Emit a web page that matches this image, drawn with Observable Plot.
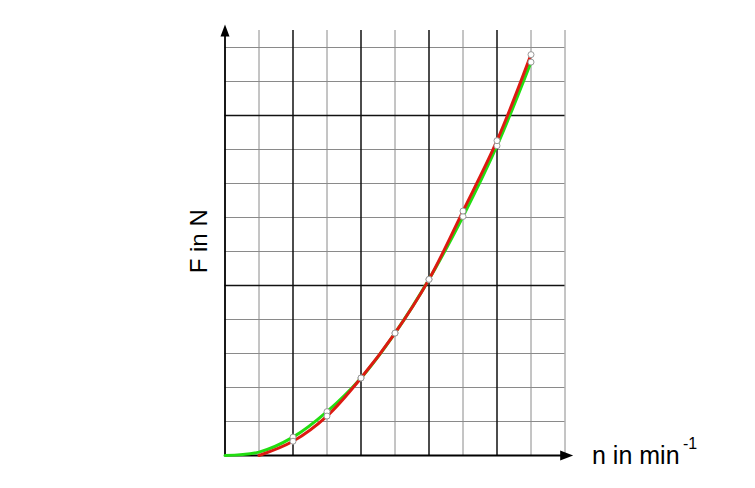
<!DOCTYPE html>
<html>
<head>
<meta charset="utf-8">
<script src="https://cdn.jsdelivr.net/npm/d3@7"></script>
<script src="https://cdn.jsdelivr.net/npm/@observablehq/plot@0.6"></script>
<style>
  html, body { margin: 0; padding: 0; background: #fff; }
  #chart svg { display: block; }
</style>
</head>
<body>
<div id="chart"></div>
<script>
// Grid positions (in grid units)
const vGridThin = [1, 3, 5, 7, 9, 10];
const vGridThick = [2, 4, 6, 8];
const hGridThin = [1, 2, 3, 4, 6, 7, 8, 9, 11, 12];
const hGridThick = [5, 10];

// Series values
const redX = [1, 2, 3, 4, 5, 6, 7, 8, 9];
const redY = [0, 0.42, 1.16, 2.28, 3.6, 5.18, 7.19, 9.26, 11.79];
const greenX = [0, 1, 2, 3, 4, 5, 6, 7, 8, 9];
const greenY = [0, 0.1, 0.54, 1.29, 2.28, 3.6, 5.18, 7.03, 9.11, 11.57];

const xLabel = "n in min";
const xLabelSup = "-1";
const yLabel = "F in N";

const red = redX.map((x, i) => ({x, y: redY[i]}));
const green = greenX.map((x, i) => ({x, y: greenY[i]}));
const redMarks = red.filter(d => d.x >= 2);
const greenMarks = green.filter(d => d.x >= 2);

const upArrow = {draw(ctx) { ctx.moveTo(0, 0); ctx.lineTo(-4.5, 12); ctx.lineTo(4.5, 12); ctx.closePath(); }};
const rightArrow = {draw(ctx) { ctx.moveTo(0, 0); ctx.lineTo(-13, -5); ctx.lineTo(-13, 5); ctx.closePath(); }};

const font = "Liberation Sans, Arial, sans-serif";

const chart = Plot.plot({
  width: 755,
  height: 488,
  marginLeft: 224.5,
  marginRight: 190.5,
  marginTop: 30,
  marginBottom: 33,
  x: {domain: [0, 10], axis: null},
  y: {domain: [0, 12.5], axis: null},
  style: {fontFamily: font, background: "#fff"},
  marks: [
    Plot.ruleX(vGridThin, {y1: 0, y2: 12.5, stroke: "#8a8a8a", strokeWidth: 1}),
    Plot.ruleY(hGridThin, {x1: 0, x2: 10, stroke: "#8a8a8a", strokeWidth: 1}),
    Plot.ruleX(vGridThick, {y1: 0, y2: 12.5, stroke: "#111", strokeWidth: 1.5}),
    Plot.ruleY(hGridThick, {x1: 0, x2: 10, stroke: "#111", strokeWidth: 1.5}),
    // axes
    Plot.ruleX([0], {y1: 0, y2: 12.45, stroke: "#000", strokeWidth: 1.8}),
    Plot.ruleY([0], {x1: 0, x2: 10.0, stroke: "#000", strokeWidth: 1.8}),
    Plot.dot([{x: 0, y: 12.68}], {x: "x", y: "y", symbol: upArrow, fill: "#000", stroke: "none", r: 5}),
    Plot.dot([{x: 10.24, y: 0}], {x: "x", y: "y", symbol: rightArrow, fill: "#000", stroke: "none", r: 5}),
    // curves
    Plot.line(green, {x: "x", y: "y", curve: "catmull-rom", stroke: "#22dd11", strokeWidth: 3}),
    Plot.line(red, {x: "x", y: "y", curve: "catmull-rom", stroke: "#dd1a12", strokeWidth: 3}),
    Plot.dot(greenMarks, {x: "x", y: "y", r: 3, fill: "#fff", stroke: "#999", strokeWidth: 1}),
    Plot.dot(redMarks, {x: "x", y: "y", r: 3, fill: "#fff", stroke: "#999", strokeWidth: 1}),
    // labels
    Plot.text([yLabel], {x: () => 0, y: () => 6.3, dx: -26, rotate: -90, fontSize: 24, fill: "#000", textAnchor: "middle"}),
    Plot.text([xLabel], {x: () => 10, y: () => 0, dx: 27, fontSize: 25, fill: "#000", textAnchor: "start"}),
    Plot.text([xLabelSup], {x: () => 10, y: () => 0, dx: 118, dy: -12, fontSize: 16, fill: "#000", textAnchor: "start"})
  ]
});
document.getElementById("chart").appendChild(chart);
</script>
</body>
</html>
